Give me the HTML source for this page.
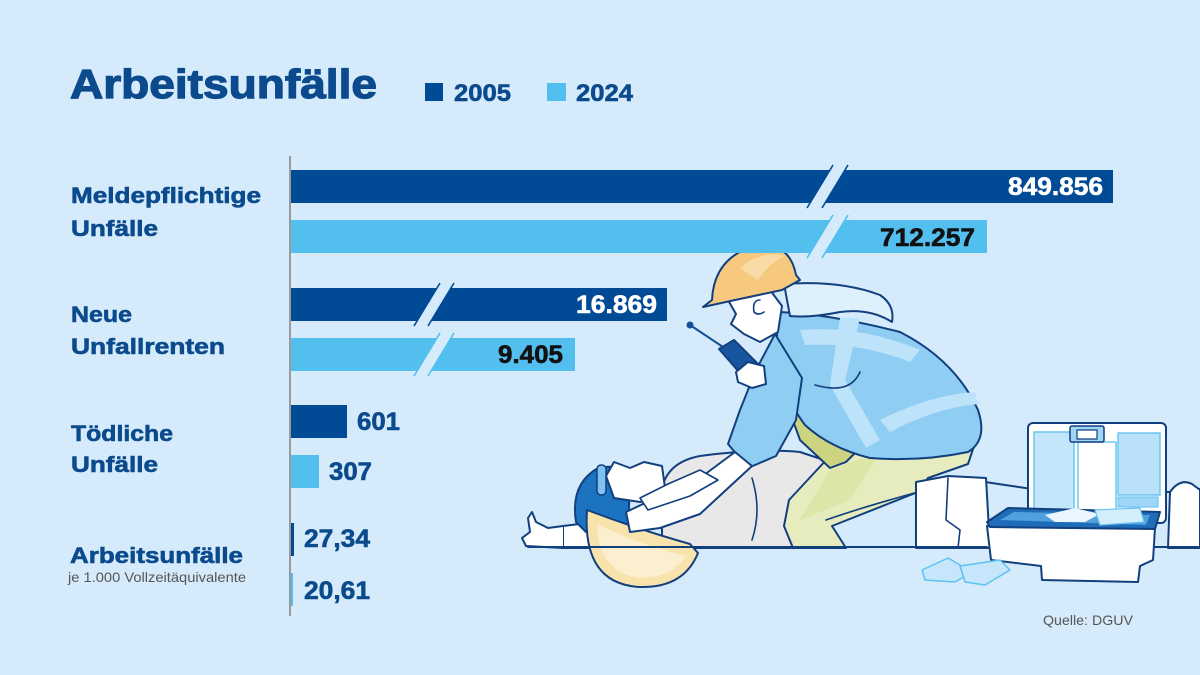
<!DOCTYPE html>
<html>
<head>
<meta charset="utf-8">
<style>
  html,body{margin:0;padding:0;background:#d5ebfb;}
  svg{display:block;}
  text{font-family:"Liberation Sans",Arial,sans-serif;}
</style>
</head>
<body>
<svg width="1200" height="675" viewBox="0 0 1200 675" xmlns="http://www.w3.org/2000/svg">
  <rect x="0" y="0" width="1200" height="675" fill="#d5ebfb"/>

  <!-- ============ ILLUSTRATION ============ -->
  <g stroke="#123f7e" stroke-width="2" stroke-linejoin="round" stroke-linecap="round">
    <path d="M985,482 L1032,489" fill="none"/>
    <path d="M1155,492 L1172,492" fill="none"/>
    <path d="M1188,488 L1200,489" fill="none"/>

    <!-- torso gray -->
    <path d="M662,548 L662,488 Q668,462 700,456 Q760,448 800,452 L830,462 L832,548 Z" fill="#e8e8e9"/>
    <path d="M752,478 Q762,510 752,540" fill="none" stroke-width="1.6"/>

    <!-- left arm + hand -->
    <path d="M563,526 L628,518 L632,548 L563,548 Z" fill="#ffffff"/>
    <path d="M563,526 L548,528 L536,522 L532,512 L528,518 L530,532 L522,538 L526,546 L563,548" fill="#ffffff"/>

    <!-- hair dark blue -->
    <path d="M576,522 Q570,484 598,468 Q624,462 630,484 L628,530 L586,532 Z" fill="#1c74c1"/>
    <!-- face -->
    <path d="M606,476 L614,462 L630,468 L644,462 L662,466 L666,495 L640,502 L614,498 Z" fill="#ffffff"/>
    <rect x="597" y="465" width="9" height="30" rx="4" fill="#7fc2ef" stroke-width="1.5"/>

    <!-- lying helmet -->
    <path d="M587,510 Q582,584 640,587 Q684,588 698,553 L690,544 Q640,530 587,510 Z" fill="#f8e3ad"/>
    <path d="M597,524 Q598,572 640,578 Q672,578 686,556 Q640,545 597,524 Z" fill="#fbefcf" stroke="none"/>

    <!-- woman's pants -->
    <path d="M793,548 L784,526 L789,500 L828,458 L870,440 L976,440 L968,464 L928,478 L918,492 L832,526 L846,548 Z" fill="#e6ecbd"/>
    <path d="M800,520 L830,470 L880,452 L850,500 Z" fill="#dde5a8" stroke="none"/>
    <path d="M826,520 Q860,508 918,492" fill="none" stroke-width="1.6"/>
    <!-- dark olive crotch -->
    <path d="M787,404 L832,402 L850,420 L866,442 L846,462 L830,468 L800,440 Z" fill="#ccd47f"/>

    <!-- boots -->
    <path d="M916,482 L948,476 L986,478 L990,548 L916,548 Z" fill="#ffffff"/>
    <path d="M948,478 L946,520 L960,530 L958,548" fill="none" stroke-width="1.6"/>

    <!-- shirt/body -->
    <path d="M778,312 Q830,314 900,332 Q955,360 978,410 Q988,440 968,452 Q920,462 870,458 Q830,448 805,425 Q786,400 776,360 Z" fill="#90cdf3"/>
    <path d="M800,330 Q860,325 920,350 L910,362 Q860,342 805,345 Z" fill="#bde3fb" stroke="none"/>
    <path d="M840,318 L860,318 L845,380 L880,440 L866,448 L830,385 Z" fill="#bde3fb" stroke="none"/>
    <path d="M880,420 Q930,395 975,392 L978,404 Q935,408 890,432 Z" fill="#bde3fb" stroke="none"/>
    <path d="M815,385 Q850,395 860,372" fill="none" stroke-width="1.6"/>

    <!-- sleeve -->
    <path d="M775,334 L756,370 L740,410 L728,444 L748,468 L776,456 L796,420 L802,378 Z" fill="#90cdf3"/>

    <!-- forearms -->
    <path d="M735,452 L700,478 L660,496 L626,512 L630,532 L660,528 L700,514 L752,466 Z" fill="#ffffff"/>
    <path d="M700,470 L668,484 L640,498 L648,510 L690,496 L718,480 Z" fill="#ffffff" stroke-width="1.6"/>

    <!-- hair -->
    <path d="M784,284 Q840,280 880,295 Q895,305 892,322 Q870,308 840,312 Q810,318 790,316 Z" fill="#dff0fd"/>

    <!-- face -->
    <path d="M728,300 L736,314 L731,324 L744,334 L760,342 L778,332 L782,306 L770,290 L744,293 Z" fill="#ffffff"/>
    <path d="M760,300 Q752,300 754,312 Q758,316 764,312" fill="none" stroke-width="1.6"/>

    <!-- helmet -->
    <path d="M703,307 L712,300 Q714,256 758,245 Q790,243 796,275 L800,280 L782,290 L735,300 Z" fill="#f7c97e"/>
    <path d="M740,268 Q760,250 785,256 Q770,262 758,280 Z" fill="#f9dba6" stroke="none"/>

    <!-- walkie-talkie -->
    <line x1="690" y1="325" x2="726" y2="349" stroke="#154f97" stroke-width="2"/>
    <circle cx="690" cy="325" r="3.5" fill="#154f97" stroke="none"/>
    <path d="M719,349 L734,340 L762,368 L746,380 Z" fill="#17569f"/>
    <path d="M736,372 L748,362 L764,366 L766,384 L752,388 L738,382 Z" fill="#ffffff"/>

    <!-- first aid kit lid -->
    <rect x="1028" y="423" width="138" height="100" rx="5" fill="#ffffff"/>
    <rect x="1034" y="432" width="40" height="88" fill="#c3e6fb" stroke="#6fc6f0" stroke-width="1.5"/>
    <rect x="1078" y="442" width="38" height="80" fill="#ffffff" stroke="#6fc6f0" stroke-width="1.5"/>
    <rect x="1118" y="433" width="42" height="62" fill="#b9e1fa" stroke="#6fc6f0" stroke-width="1.5"/>
    <rect x="1118" y="497" width="40" height="10" fill="#9fd6f6" stroke="#6fc6f0" stroke-width="1.2"/>
    <rect x="1070" y="426" width="34" height="16" rx="2" fill="#9fd6f6" stroke-width="1.5"/>
    <rect x="1077" y="430" width="20" height="9" fill="#ffffff" stroke-width="1.2"/>
    <!-- kit base -->
    <path d="M987,526 L1155,528 L1153,560 L1140,566 L1138,582 L1042,580 L1041,566 L991,560 Z" fill="#ffffff"/>
    <path d="M987,522 L1008,508 L1160,512 L1155,529 L990,527 Z" fill="#1f6db8"/>
    <path d="M1000,520 L1014,512 L1150,515 L1146,525 Z" fill="#4fa0dd" stroke="none"/>
    <path d="M1045,515 L1075,508 L1100,514 L1085,522 L1055,522 Z" fill="#eaf6fe" stroke="none"/>
    <path d="M1095,510 L1140,508 L1144,522 L1100,525 Z" fill="#d5eefc" stroke="#6fc6f0" stroke-width="1.2"/>

    <!-- papers -->
    <path d="M922,570 L948,558 L972,572 L955,582 L925,580 Z" fill="#c6e7fb" stroke="#5ec2ef" stroke-width="1.5"/>
    <path d="M960,566 L1000,560 L1010,570 L985,585 L965,582 Z" fill="#c6e7fb" stroke="#5ec2ef" stroke-width="1.5"/>

    <!-- right boot -->
    <path d="M1168,548 L1170,492 Q1180,478 1192,484 L1200,490 L1200,548 Z" fill="#ffffff"/>

    <!-- floor line -->
    <path d="M528,547 L987,547" fill="none"/>
    <path d="M1155,547 L1200,547" fill="none"/>
  </g>

  <!-- ============ TITLE & LEGEND ============ -->
  <text x="70" y="98" font-size="41" font-weight="bold" fill="#0b4a8d" stroke="#0b4a8d" stroke-width="1.2" textLength="307" lengthAdjust="spacingAndGlyphs">Arbeitsunfälle</text>
  <rect x="425" y="83" width="18" height="18" fill="#014a95"/>
  <text x="454" y="101" font-size="24" font-weight="bold" fill="#0b4a8d" stroke="#0b4a8d" stroke-width="0.6" textLength="57" lengthAdjust="spacingAndGlyphs">2005</text>
  <rect x="547" y="83" width="19" height="18" fill="#52bfee"/>
  <text x="576" y="101" font-size="24" font-weight="bold" fill="#0b4a8d" stroke="#0b4a8d" stroke-width="0.6" textLength="57" lengthAdjust="spacingAndGlyphs">2024</text>

  <!-- ============ CATEGORY LABELS ============ -->
  <g font-size="22" font-weight="bold" fill="#0b4a8d" stroke="#0b4a8d" stroke-width="0.6">
    <text x="71" y="203" textLength="190" lengthAdjust="spacingAndGlyphs">Meldepflichtige</text>
    <text x="71" y="236" textLength="87" lengthAdjust="spacingAndGlyphs">Unfälle</text>
    <text x="71" y="322" textLength="61" lengthAdjust="spacingAndGlyphs">Neue</text>
    <text x="71" y="354" textLength="154" lengthAdjust="spacingAndGlyphs">Unfallrenten</text>
    <text x="71" y="441" textLength="102" lengthAdjust="spacingAndGlyphs">Tödliche</text>
    <text x="71" y="472" textLength="87" lengthAdjust="spacingAndGlyphs">Unfälle</text>
    <text x="70" y="563" textLength="173" lengthAdjust="spacingAndGlyphs">Arbeitsunfälle</text>
  </g>
  <text x="68" y="582" font-size="14" fill="#555555" textLength="178" lengthAdjust="spacingAndGlyphs">je 1.000 Vollzeitäquivalente</text>

  <!-- ============ AXIS ============ -->
  <line x1="290" y1="156" x2="290" y2="616" stroke="#9a9a9a" stroke-width="2"/>

  <!-- ============ BARS ============ -->
  <rect x="291" y="170" width="822" height="33" fill="#014a95"/>
  <polygon points="830,170 845,170 825,203 810,203" fill="#d5ebfb"/>
  <line x1="833" y1="165" x2="807" y2="208" stroke="#014a95" stroke-width="1.6"/>
  <line x1="848" y1="165" x2="822" y2="208" stroke="#014a95" stroke-width="1.6"/>

  <rect x="291" y="220" width="696" height="33" fill="#52bfee"/>
  <polygon points="830,220 845,220 825,253 810,253" fill="#d5ebfb"/>
  <line x1="833" y1="215" x2="807" y2="258" stroke="#52bfee" stroke-width="1.6"/>
  <line x1="848" y1="215" x2="822" y2="258" stroke="#52bfee" stroke-width="1.6"/>

  <rect x="291" y="288" width="376" height="33" fill="#014a95"/>
  <polygon points="437,288 451,288 431,321 417,321" fill="#d5ebfb"/>
  <line x1="440" y1="283" x2="414" y2="326" stroke="#014a95" stroke-width="1.6"/>
  <line x1="454" y1="283" x2="428" y2="326" stroke="#014a95" stroke-width="1.6"/>

  <rect x="291" y="338" width="284" height="33" fill="#52bfee"/>
  <polygon points="437,338 451,338 431,371 417,371" fill="#d5ebfb"/>
  <line x1="440" y1="333" x2="414" y2="376" stroke="#52bfee" stroke-width="1.6"/>
  <line x1="454" y1="333" x2="428" y2="376" stroke="#52bfee" stroke-width="1.6"/>

  <rect x="291" y="405" width="56" height="33" fill="#014a95"/>
  <rect x="291" y="455" width="28" height="33" fill="#52bfee"/>
  <rect x="291" y="523" width="3" height="33" fill="#014a95"/>
  <rect x="291" y="573" width="2" height="33" fill="#52bfee"/>

  <!-- ============ VALUE LABELS ============ -->
  <g font-size="25" font-weight="bold" stroke-width="0.6">
    <text x="1103" y="195" text-anchor="end" fill="#ffffff" stroke="#ffffff" textLength="95" lengthAdjust="spacingAndGlyphs">849.856</text>
    <text x="975" y="246" text-anchor="end" fill="#111111" stroke="#111111" textLength="95" lengthAdjust="spacingAndGlyphs">712.257</text>
    <text x="657" y="313" text-anchor="end" fill="#ffffff" stroke="#ffffff" textLength="81" lengthAdjust="spacingAndGlyphs">16.869</text>
    <text x="563" y="363" text-anchor="end" fill="#111111" stroke="#111111" textLength="65" lengthAdjust="spacingAndGlyphs">9.405</text>
    <text x="357" y="430" fill="#0b4a8d" stroke="#0b4a8d" textLength="43" lengthAdjust="spacingAndGlyphs">601</text>
    <text x="329" y="480" fill="#0b4a8d" stroke="#0b4a8d" textLength="43" lengthAdjust="spacingAndGlyphs">307</text>
    <text x="304" y="547" fill="#0b4a8d" stroke="#0b4a8d" textLength="66" lengthAdjust="spacingAndGlyphs">27,34</text>
    <text x="304" y="599" fill="#0b4a8d" stroke="#0b4a8d" textLength="66" lengthAdjust="spacingAndGlyphs">20,61</text>
  </g>

  <text x="1043" y="625" font-size="14" fill="#555555" textLength="90" lengthAdjust="spacingAndGlyphs">Quelle: DGUV</text>
</svg>
</body>
</html>
